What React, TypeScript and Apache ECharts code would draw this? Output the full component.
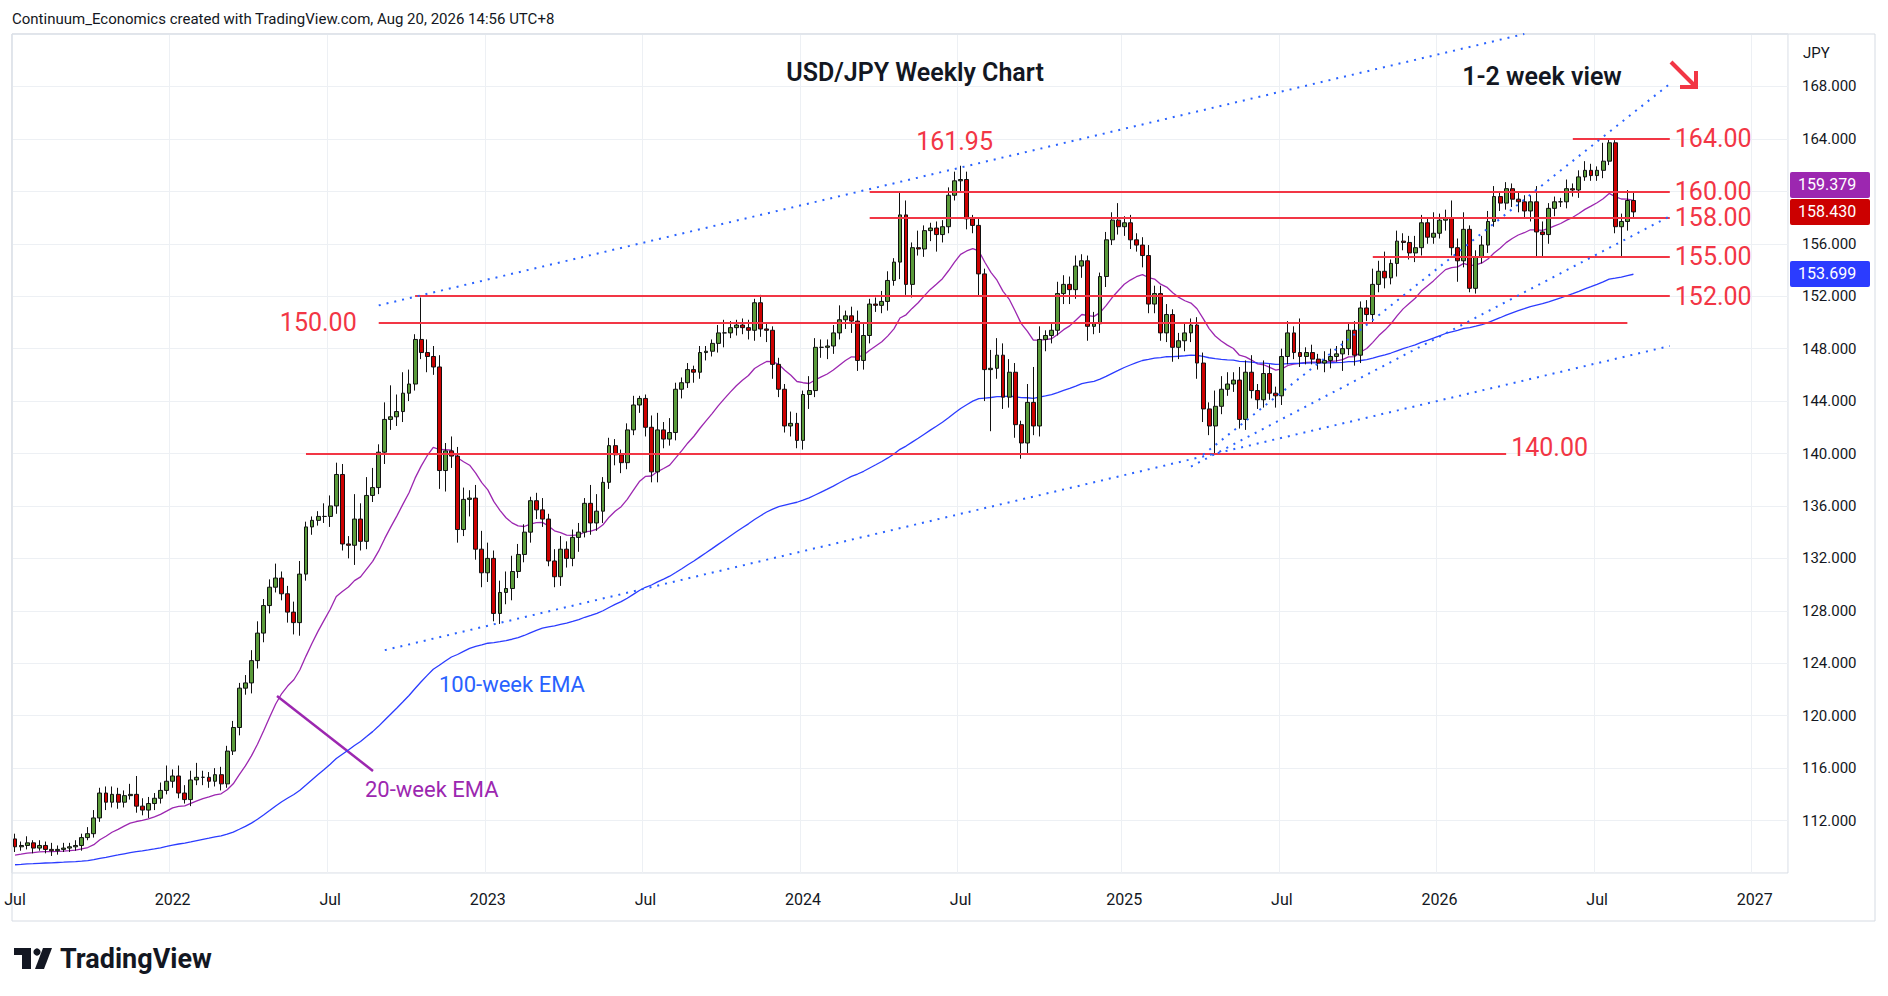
import React, { useEffect, useRef } from 'react';
import * as echarts from 'echarts';

// weekly closes, Jul 2021 -> Aug 2026
const closes = [
  110.0, 110.1, 110.3, 109.9, 110.1, 109.8, 109.7, 109.8, 109.9, 110.0, 110.1, 110.7, 111.0, 112.2, 114.1,
  113.4, 114.0, 113.4, 113.9, 114.0, 113.1, 112.8, 113.3, 113.7, 114.3, 115.0, 115.4, 114.1, 113.6, 115.1,
  115.3, 115.3, 115.0, 115.5, 114.8, 117.3, 119.1, 122.1, 122.5, 124.2, 126.3, 128.4, 129.8, 130.5, 129.3,
  127.9, 127.1, 130.8, 134.4, 134.9, 135.2, 135.2, 136.0, 138.4,
  133.1, 133.0, 135.0, 133.3, 136.8, 137.4, 140.1, 142.6, 142.8, 143.2, 144.6, 145.3, 148.7, 147.7, 147.4,
  146.6, 138.7, 140.2, 139.8, 134.2, 136.5, 136.6, 132.7, 130.9, 132.0, 127.8, 129.4, 129.7, 131.0, 132.3,
  134.0, 136.4, 135.7, 135.0, 131.8, 130.6, 132.7, 132.0, 133.6, 134.0, 136.2, 134.7, 135.6, 137.8, 140.6,
  139.9, 139.3, 141.8, 143.7, 144.2, 142.0, 138.6,
  141.8, 141.1, 141.6, 144.9, 145.4, 146.4, 146.2, 147.7, 147.8, 148.4, 149.2, 149.2, 149.6, 149.8, 149.6,
  149.4, 151.5, 149.5, 149.4, 146.8, 144.9, 142.1, 142.3, 141.0, 144.5, 144.8, 148.1, 148.1, 148.2, 149.2,
  150.2, 150.5, 150.1, 147.1, 149.0, 151.4, 151.3, 151.6, 153.2, 154.6, 158.2, 152.9, 155.7, 155.6, 157.0,
  157.2, 156.7, 157.3, 159.7, 160.8, 160.9,
  157.9, 157.4, 153.7, 146.4, 146.5, 147.5, 144.3, 146.2, 142.2, 140.8, 143.9, 142.1, 148.7, 149.0, 149.4,
  152.2, 152.9, 152.5, 154.3, 154.7, 149.7, 149.9, 153.5, 156.3, 157.8, 157.3, 157.6, 156.3, 155.9, 155.1,
  151.4, 152.2, 149.2, 150.6, 148.1, 148.6, 149.2, 149.8, 146.9, 143.4, 142.1, 143.6, 144.9, 145.3, 145.6,
  142.6, 146.2, 144.8, 144.1, 146.1, 144.6, 144.4, 147.4, 149.2,
  147.7, 147.4, 147.7, 147.2, 146.9, 147.1, 147.4, 147.6, 148.0, 149.4, 147.5, 151.1, 150.6, 152.9, 153.9,
  153.4, 154.5, 156.2, 156.1, 155.3, 155.7, 157.6, 156.5, 156.8, 157.8, 158.0, 155.7, 154.7, 157.1, 152.6,
  155.0, 155.9, 157.7, 159.6, 159.1, 160.2, 159.4, 159.2, 158.5, 159.2, 156.9, 156.7, 158.7, 159.2, 159.2,
  160.2, 160.1, 161.1, 161.6, 161.2, 161.6, 162.3, 163.7, 157.3, 157.7, 159.3, 158.43,
];

// wick length above the body / below the body
const upWick = [
  .4, .3, .5, .2, .4, .3, .5, .3, .4, .3, .4, .3, .5, .6, .4, .5, .6, .5, .4, .8,
  1.4, .6, .5, .4, .6, 1.2, .5, .8, .6, .7, 1.1, .5, .4, .5, .6, .4, .5, .4, .6, .8,
  .9, .5, .6, 1.1, .5, .6, .8, 1.0, .4, .3, .4, 1.0, .8, .9, .8, .6, 1.9, 1.2, 1.4, 1.5,
  .6, 1.3, 2.4, 1.3, 1.6, 1.1, .4, 3.2, 1.0, .8, .9, .6, 1.1, .7, .9, .6, 1.0, 1.4, 1.2, .6,
  .9, 1.3, 1.2, .8, .6, .3, .6, .9, .4, .9, 1.0, .6, .6, .7, .4, 1.4, 1.3, .4, .6, .5,
  .4, .5, .7, .2, .3, .9, 1.3, .6, 1.1, .5, .4, .5, .3, .5, .4, .3, .6, 1.0, .5, .4,
  .5, .6, .3, .6, .5, .3, .5, .4, .9, .8, .3, 1.1, .7, .6, .5, .6, 1.1, .4, .7, .8,
  .9, .4, .5, .8, .7, .3, 1.8, 1.1, .4, 1.3, .4, .4, .5, .5, .6, .7, 1.05, .6, .3, .6,
  .4, 1.4, 1.3, .9, 1.0, .7, .3, 1.4, 2.7, 1.0, .4, .6, .9, .7, .6, .8, .5, .4, .9, .3,
  .6, .6, 1.3, .5, .6, .5, .6, .8, .6, .6, .8, .4, .6, .7, .5, .6, .8, .5, 1.2, 1.0,
  .9, .6, 1.0, .9, 1.3, .5, 1.0, .7, .5, .6, .9, .5, 2.6, .4, .6, .4, .7, .6, .6, .6,
  .6, .7, .5, .6, 1.2, .8, 1.5, .3, .8, .6, .5, .9, .6, .4, 1.6, .5, .6, 1.3, .7, 1.3,
  .3, .5, .7, .8, .8, .4, .5, .4, .6, .5, .5, 1.2, .8, .4, .4, .3, .7, .4, .5, .7,
  .5, .3, 1.4, .3, .2, .6, .8, .7,
];
const downWick = [
  .4, .3, .3, .4, .2, .3, .4, .3, .2, .3, .3, .4, .2, .3, .3, .6, .4, .5, .4, .3,
  .5, .4, .6, .5, .4, .3, .5, .4, .3, .5, .4, .6, .5, .4, .5, .3, .3, .6, .5, .8,
  .6, .7, .6, .4, .5, .8, .9, 1.0, .5, .6, .4, .5, .8, .6, .5, 1.0, 1.5, .7, .6, .5,
  .5, .9, .8, .7, .8, .6, .5, .5, 1.2, .6, 1.4, 1.6, .9, 1.0, .5, 1.3, .8, 1.1, .7, .6,
  .8, .9, .9, .5, .6, .8, .7, .6, .4, .8, .7, .7, .6, 1.1, .4, .9, .6, .9, .5, .8,
  .8, .5, .4, .6, .7, .8, .8, .7, .5, .6, .7, .4, .8, .5, .6, .4, .7, 1.1, .4, .6,
  .5, .7, .8, .6, .9, 1.1, .6, .5, .8, .6, .7, 1.1, .5, .8, .9, .6, .5, .7, .9, .8,
  .7, .6, .5, .6, .7, .4, 1.3, .8, 1.0, .5, .6, .8, 1.3, .6, .5, .4, .8, .8, .6, 1.7,
  2.4, 4.7, .8, .9, .8, 1.0, 1.2, .8, .7, .8, .9, .6, .4, .8, 1.1, .7, .9, 1.1, .6, .7,
  .8, .4, .6, .7, .7, .5, .9, .7, .7, .6, .7, 1.1, .9, .8, .7, 1.2, 1.0, .7, 2.1, .6,
  .5, .6, .7, .8, .6, .7, .6, .5, .9, .7, .6, .5, .8, .6, .4, .5, .7, .6, .4, 1.3,
  .5, .8, .6, .5, .7, .6, .8, .5, 1.0, .6, .5, .7, .6, .5, .5, .4, .8, .6, 1.6, .5,
  .3, .4, .5, .6, .4, .6, .5, .6, .8, .5, .8, 1.9, 1.7, .7, .6, .4, .5, .5, .6, .3,
  .4, .4, .6, .3, .5, 2.3, .7, .5,
];
const firstOpen = 110.6;
const emaSeed20 = 109.3;
const emaSeed100 = 108.6;
const emptyWeeksRight = 25;

const yTicks = { min: 108, max: 172, interval: 4 };
// axis labels that sit under the price tags
const hiddenYLabels = [160, 158];

// horizontal levels: [value, fromIdx, toIdx, label position]
const levels: [number, number, number, string][] = [
  [164, 257, 273.4, 'end'],
  [160, 141.3, 273.4, 'end'],
  [158, 141.3, 273.4, 'end'],
  [155, 224.2, 273.4, 'end'],
  [152, 65.5, 273.4, 'end'],
  [150, 60, 266.3, 'start'],
  [140, 48.4, 245.6, 'end'],
];
// dotted trend lines: [idx1, v1, idx2, v2]
const trendLines: [number, number, number, number][] = [
  [60, 151.3, 249, 172],
  [60.5, 125.0, 272.8, 148.2],
  [196.4, 139.9, 272.8, 168.2],
  [194.4, 139.0, 272.8, 158.1],
];
const priceTags: [number, string][] = [
  [159.379, '#9c27b0'],
  [158.43, '#cc0000'],
  [153.699, '#2b3cff'],
];

const startDate = new Date(2021, 6, 5);

export default function App() {
  const ref = useRef<HTMLDivElement | null>(null);

  useEffect(() => {
    if (!ref.current) return;
    const chart = echarts.init(ref.current, undefined, { renderer: 'svg' });

    const total = closes.length + emptyWeeksRight;
    const dates: Date[] = [];
    for (let i = 0; i < total; i++) {
      dates.push(new Date(startDate.getTime() + i * 7 * 86400000));
    }
    const cats = dates.map(d => `${d.getFullYear()}-${d.getMonth() + 1}-${d.getDate()}`);
    const isLabel = (i: number) => {
      const d = dates[i];
      return !!d && d.getDate() <= 7 && (d.getMonth() === 0 || d.getMonth() === 6);
    };

    const candles = closes.map((c, i) => {
      const o = i === 0 ? firstOpen : closes[i - 1];
      const hi = Math.max(o, c) + upWick[i];
      const lo = Math.min(o, c) - downWick[i];
      return [o, c, lo, hi];
    });

    const ema = (n: number, seed: number) => {
      const k = 2 / (n + 1);
      let e = seed;
      return closes.map(c => {
        e = c * k + e * (1 - k);
        return +e.toFixed(3);
      });
    };

    const red = '#f23645';
    const font = 'Roboto, "Noto Sans", sans-serif';

    const option: any = {
      animation: false,
      textStyle: { fontFamily: font },
      grid: {
        left: 12, right: 100, top: 34, bottom: 123,
        show: true, borderColor: '#d6dbe3', borderWidth: 1,
      },
      xAxis: {
        type: 'category',
        data: cats,
        axisLine: { show: false },
        axisTick: { show: false },
        axisLabel: {
          interval: (i: number) => isLabel(i),
          color: '#131722',
          fontSize: 16,
          margin: 18,
          formatter: (v: string) => {
            const [y, m] = v.split('-');
            return m === '1' ? y : 'Jul';
          },
        },
        splitLine: { show: true, interval: (i: number) => isLabel(i), lineStyle: { color: '#edf0f4' } },
      },
      yAxis: {
        type: 'value',
        position: 'right',
        min: yTicks.min, max: yTicks.max, interval: yTicks.interval,
        axisLine: { show: false },
        axisTick: { show: false },
        axisLabel: {
          color: '#131722', fontSize: 15, margin: 14,
          formatter: (v: number) =>
            v === yTicks.min || v === yTicks.max || hiddenYLabels.includes(v) ? '' : v.toFixed(3),
        },
        splitLine: { lineStyle: { color: '#edf0f4' } },
      },
      series: [
        {
          type: 'candlestick',
          data: candles,
          barWidth: '72%',
          itemStyle: {
            color: '#5a9a3a', color0: '#cc0000',
            borderColor: '#111', borderColor0: '#111', borderWidth: 1,
          },
          markLine: {
            symbol: 'none',
            silent: true,
            data: [
              ...levels.map(([v, a, b, pos]) => [
                {
                  coord: [a, v],
                  lineStyle: { color: red, width: 2, type: 'solid' },
                  label: {
                    show: true, position: pos, formatter: v.toFixed(2), color: red,
                    fontSize: 25, distance: pos === 'start' ? 22 : 5,
                    offset: v === 140 ? [0, -6] : [0, 0],
                  },
                },
                { coord: [b, v] },
              ]),
              ...trendLines.map(([a, v1, b, v2]) => [
                {
                  coord: [a, v1],
                  lineStyle: { color: '#2962ff', width: 2, type: [2, 6] },
                  label: { show: false },
                },
                { coord: [b, v2] },
              ]),
            ],
          },
          markPoint: {
            symbol: 'rect', symbolSize: 1,
            itemStyle: { color: 'rgba(0,0,0,0)' },
            data: [{
              coord: [155, 163.8],
              label: { show: true, formatter: '161.95', color: red, fontSize: 25, position: 'inside' },
            }],
          },
          z: 3,
        },
        {
          type: 'line', data: ema(20, emaSeed20), symbol: 'none',
          lineStyle: { color: '#9c27b0', width: 1.3 }, z: 2,
        },
        {
          type: 'line', data: ema(100, emaSeed100), symbol: 'none',
          lineStyle: { color: '#2b3cff', width: 1.3 }, z: 2,
        },
      ],
    };
    chart.setOption(option);

    const yOf = (v: number) => chart.convertToPixel({ yAxisIndex: 0 }, v) as number;
    const yRed = yOf(priceTags[1][0]);
    const tagYs = [Math.min(yOf(priceTags[0][0]), yRed - 27), yRed, yOf(priceTags[2][0])];

    const graphics: any[] = [
      { type: 'rect', shape: { x: 12, y: 34, width: 1863, height: 887 }, style: { fill: 'none', stroke: '#d6dbe3', lineWidth: 1 }, silent: true },
      { type: 'text', x: 12, y: 11, style: { text: 'Continuum_Economics created with TradingView.com, Aug 20, 2026 14:56 UTC+8', fill: '#131722', fontSize: 15, fontFamily: font } },
      { type: 'text', x: 1803, y: 45, style: { text: 'JPY', fill: '#131722', fontSize: 15, fontFamily: font } },
      { type: 'text', x: 915, y: 72, style: { text: 'USD/JPY Weekly Chart', fill: '#131722', fontSize: 25, fontWeight: 600, fontFamily: font, align: 'center', verticalAlign: 'middle' } },
      { type: 'text', x: 1542, y: 76, style: { text: '1-2 week view', fill: '#131722', fontSize: 25, fontWeight: 600, fontFamily: font, align: 'center', verticalAlign: 'middle' } },
      { type: 'line', shape: { x1: 1671, y1: 62, x2: 1695, y2: 86 }, style: { stroke: red, lineWidth: 4 } },
      { type: 'polyline', shape: { points: [[1680, 87], [1696, 87], [1696, 71]] }, style: { stroke: red, lineWidth: 4, fill: 'none' } },
      { type: 'text', x: 439, y: 684, style: { text: '100-week EMA', fill: '#2962ff', fontSize: 22, fontFamily: font, verticalAlign: 'middle' } },
      { type: 'text', x: 365, y: 789, style: { text: '20-week EMA', fill: '#9c27b0', fontSize: 22, fontFamily: font, verticalAlign: 'middle' } },
      { type: 'line', shape: { x1: 277, y1: 696, x2: 373, y2: 771 }, style: { stroke: '#9c27b0', lineWidth: 2.5 } },
      // TradingView logo
      { type: 'rect', shape: { x: 14, y: 948, width: 17, height: 7 }, style: { fill: '#131722' } },
      { type: 'rect', shape: { x: 22, y: 948, width: 9, height: 21 }, style: { fill: '#131722' } },
      { type: 'circle', shape: { cx: 37, cy: 952, r: 3.6 }, style: { fill: '#131722' } },
      { type: 'polygon', shape: { points: [[43, 948], [52, 948], [44, 969], [35, 969]] }, style: { fill: '#131722' } },
      { type: 'text', x: 60, y: 959, style: { text: 'TradingView', fill: '#131722', fontSize: 27, fontWeight: 700, fontFamily: font, verticalAlign: 'middle' } },
    ];
    priceTags.forEach(([v, c], i) => {
      graphics.push({
        type: 'rect', shape: { x: 1790, y: tagYs[i] - 13, width: 80, height: 26, r: 2 }, style: { fill: c },
      });
      graphics.push({
        type: 'text', x: 1798, y: tagYs[i], style: { text: v.toFixed(3), fill: '#fff', fontSize: 16, fontFamily: font, verticalAlign: 'middle' },
      });
    });
    chart.setOption({ graphic: graphics });

    return () => chart.dispose();
  }, []);

  return (
    <div style={{ position: 'fixed', left: 0, top: 0, width: 1888, height: 996, background: '#fff' }}>
      <div ref={ref} style={{ width: 1888, height: 996 }} />
    </div>
  );
}
